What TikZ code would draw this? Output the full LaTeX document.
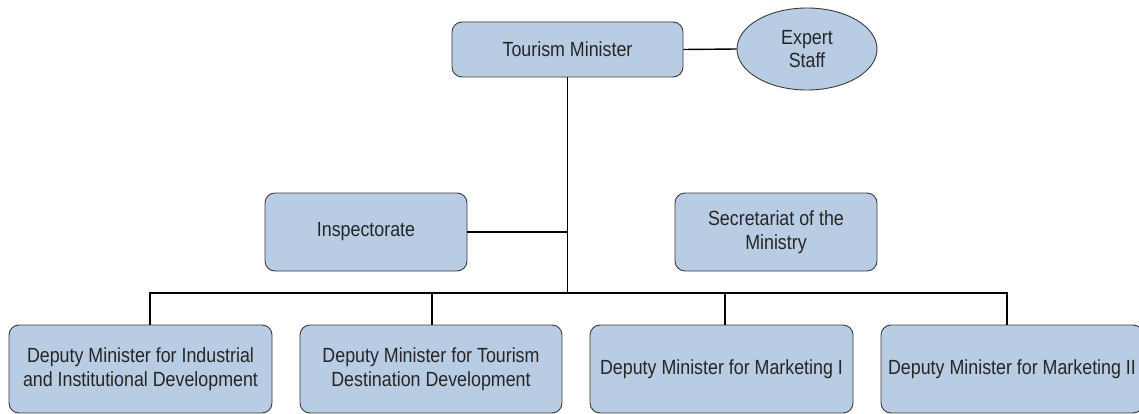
\documentclass[tikz,border=0pt]{standalone}
\usepackage{fontspec}
\setmainfont{Liberation Sans}[FakeStretch=0.87]
\usetikzlibrary{shapes.geometric}
\definecolor{boxfill}{HTML}{B8CCE4}
\definecolor{boxline}{HTML}{3A3A3A}
\definecolor{txt}{HTML}{262626}
\tikzset{
  orgbox/.style={draw=boxline, line width=0.9pt, fill=boxfill, rounded corners=10pt,
    align=center, text=txt, inner sep=0pt,
    font=\fontsize{20.5}{23.5}\selectfont},
  orgoval/.style={ellipse, draw=boxline, line width=0.9pt, fill=boxfill,
    align=center, text=txt, inner sep=0pt,
    font=\fontsize{20.5}{23.5}\selectfont},
  link/.style={draw=black, line width=1.8pt}
}
\begin{document}
\begin{tikzpicture}[x=1pt, y=-1pt]
\useasboundingbox (0,0) rectangle (1139,414);
\clip (0,0) rectangle (1139,414);
\fill[white] (0,0) rectangle (1139,414);

\node[orgbox, minimum width=231pt, minimum height=55pt] (TM) at (567.5,49.5) {Tourism Minister};
\node[orgoval, minimum width=140pt, minimum height=82pt] (ES) at (807,49) {Expert\\Staff};
\node[orgbox, minimum width=202pt, minimum height=78pt] (IN) at (366,232) {Inspectorate};
\node[orgbox, minimum width=202pt, minimum height=78pt] (SE) at (776,232) {Secretariat of the\\Ministry};
\node[orgbox, minimum width=263pt, minimum height=88pt] (D1) at (140.5,369) {Deputy Minister for Industrial\\and Institutional Development};
\node[orgbox, minimum width=262pt, minimum height=88pt] (D2) at (431,369) {Deputy Minister for Tourism\\Destination Development};
\node[orgbox, minimum width=263pt, minimum height=88pt] (D3) at (721.5,369) {Deputy Minister for Marketing I};
\node[orgbox, minimum width=262pt, minimum height=88pt] (D4) at (1012,369) {Deputy Minister for Marketing II};

\coordinate (hub) at (567.5,293);
\coordinate (b1) at (150,293);
\coordinate (b2) at (432,293);
\coordinate (b3) at (725,293);
\coordinate (b4) at (1007,293);

\draw[link, line width=1.4pt] (TM.east) -- (ES.west);
\draw[link] (TM.south) -- (hub);
\draw[link] (IN.east) -- (IN.east -| hub);
\draw[link, line cap=rect] (b1) -- (b4);
\draw[link] (b1) -- (b1 |- D1.north);
\draw[link] (b2) -- (b2 |- D2.north);
\draw[link] (b3) -- (b3 |- D3.north);
\draw[link] (b4) -- (b4 |- D4.north);
\end{tikzpicture}
\end{document}
